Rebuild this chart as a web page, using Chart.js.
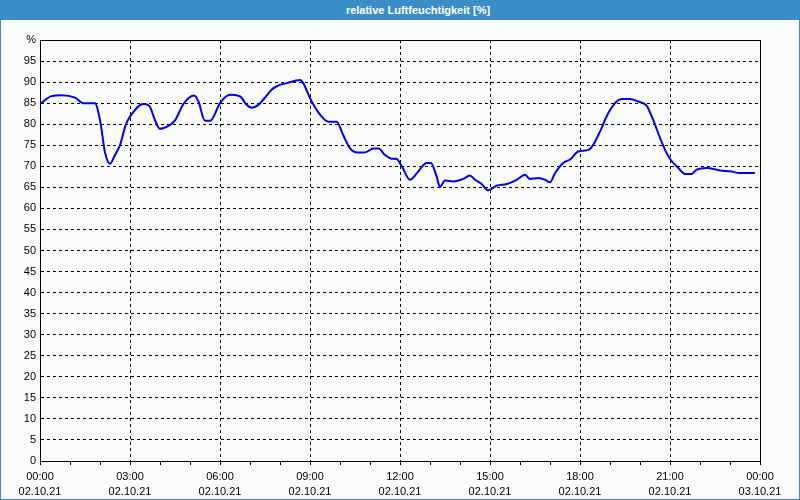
<!doctype html>
<html>
<head>
<meta charset="utf-8">
<script src="https://cdn.jsdelivr.net/npm/chart.js"></script>
<style>
    * { margin: 0; padding: 0; }
    body { background: #fafcfb; }
    #frame {
        position: relative;
        width: 800px;
        height: 500px;
        box-sizing: border-box;
        border: 1px solid #3c8fc6;
        border-top: none;
        background: #fafcfb;
    }
    #head {
        height: 20px;
        background: #3c8fc6;
        color: #fff;
        font: bold 11px 'Liberation Sans', sans-serif;
        line-height: 20px;
        text-align: center;
        padding-left: 36px;
        margin: 0 -1px;
    }
    #box { position: relative; width: 798px; height: 479px; }
</style>
</head>
<body>
<div id="frame">
    <div id="head">relative Luftfeuchtigkeit [%]</div>
    <div id="box"><canvas id="feuchte"></canvas></div>
</div>
<script>
// Stunden seit 02.10.21 00:00 und rel. Feuchte in %
const hours = [0, 0.36, 0.72, 1.17, 1.44, 1.83, 2.0, 2.17, 2.33, 2.5, 2.67, 2.86, 3.0,
    3.44, 3.64, 3.83, 4.0, 4.28, 4.5, 4.78, 5.14, 5.28, 5.5, 5.67, 6.0, 6.22, 6.39,
    6.67, 6.89, 7.06, 7.28, 7.44, 7.72, 7.94, 8.2, 8.67, 8.78, 9.0, 9.22, 9.39, 9.61,
    9.89, 10.1, 10.33, 10.56, 10.83, 11.11, 11.28, 11.5, 11.72, 11.87, 12.06, 12.33,
    12.61, 12.89, 13.03, 13.22, 13.33, 13.5, 13.78, 14.11, 14.33, 14.5, 14.72, 14.94,
    15.22, 15.56, 15.89, 16.17, 16.33, 16.61, 16.83, 17.0, 17.17, 17.44, 17.67, 17.94,
    18.28, 18.44, 18.67, 18.94, 19.22, 19.39, 19.67, 19.94, 20.22, 20.44, 20.67, 20.89,
    21.06, 21.28, 21.5, 21.72, 21.89, 22.22, 22.67, 23.0, 23.33, 23.83];
const humidity = [84.8, 86.6, 86.9, 86.3, 85.0, 85.0, 81.0, 73.2, 70.6, 72.7, 75.1, 79.9, 81.8,
    84.8, 84.4, 81.0, 78.9, 79.6, 80.9, 84.8, 86.8, 85.4, 80.8, 80.8, 85.0, 86.7, 87.0,
    86.6, 84.6, 83.9, 84.6, 85.8, 88.2, 89.2, 89.7, 90.5, 89.7, 86.2, 83.4, 81.8, 80.6,
    80.6, 77.5, 74.3, 73.3, 73.3, 74.2, 74.2, 72.7, 71.8, 71.8, 70.0, 66.8,
    68.8, 70.8, 70.8, 67.6, 65.1, 66.6, 66.4, 67.0, 67.8, 66.8, 65.8, 64.3,
    65.4, 65.8, 66.8, 68.0, 67.0, 67.2, 66.8, 66.2, 68.4, 70.8, 71.6, 73.5,
    73.9, 75.1, 78.3, 82.6, 85.4, 86.0, 86.0, 85.4, 84.4, 81.0, 76.7, 73.1,
    71.2, 69.6, 68.2, 68.2, 69.2, 69.6, 69.0, 68.8, 68.4, 68.4];

// Achsenbeschriftung
const timeLabels = ['00:00', '03:00', '06:00', '09:00', '12:00', '15:00', '18:00', '21:00', '00:00'];
const dateLabels = ['02.10.21', '02.10.21', '02.10.21', '02.10.21', '02.10.21', '02.10.21', '02.10.21', '02.10.21', '03.10.21'];

const points = hours.map((h, i) => ({ x: h, y: humidity[i] }));

const frameBox = {
    id: 'frameBox',
    afterDatasetsDraw(chart) {
        const a = chart.chartArea;
        const c = chart.ctx;
        c.save();
        c.strokeStyle = '#000';
        c.lineWidth = 1;
        c.strokeRect(Math.round(a.left) + 0.5, Math.round(a.top) + 0.5,
            Math.round(a.right - a.left), Math.round(a.bottom - a.top));
        c.restore();
    }
};

const fnt = { family: "'Liberation Sans', sans-serif", size: 11 };

new Chart(document.getElementById('feuchte'), {
    type: 'line',
    data: {
        datasets: [{
            data: points,
            borderColor: 'rgb(0, 0, 230)',
            borderWidth: 2,
            pointRadius: 0,
            cubicInterpolationMode: 'monotone',
            fill: false
        }]
    },
    options: {
        responsive: true,
        maintainAspectRatio: false,
        animation: false,
        layout: { padding: { left: 0, right: 39, top: 20, bottom: 0 } },
        plugins: { legend: { display: false }, tooltip: { enabled: false } },
        scales: {
            x: {
                type: 'linear',
                min: 0,
                max: 24,
                afterFit: s => { s.height = 38; },
                ticks: {
                    stepSize: 1,
                    autoSkip: false,
                    maxRotation: 0,
                    padding: 5,
                    color: '#000',
                    font: Object.assign({ lineHeight: 1.35 }, fnt),
                    callback: v => v % 3 === 0 ? [timeLabels[v / 3], dateLabels[v / 3]] : ''
                },
                grid: {
                    color: ctx => (ctx.tick && ctx.tick.value % 3 === 0) ? '#000' : 'rgba(0,0,0,0)',
                    tickColor: '#000',
                    tickLength: 4,
                    lineWidth: 1
                },
                border: { color: '#000', width: 1, dash: [3, 3] }
            },
            y: {
                min: 0,
                max: 100,
                afterFit: s => { s.width = 39; },
                ticks: {
                    stepSize: 5,
                    padding: 4,
                    color: '#000',
                    font: fnt,
                    callback: v => v === 100 ? '%' : v
                },
                grid: { color: '#000', drawTicks: false, lineWidth: 1 },
                border: { color: '#000', width: 1, dash: [3, 3] }
            }
        }
    },
    plugins: [frameBox]
});
</script>
</body>
</html>
